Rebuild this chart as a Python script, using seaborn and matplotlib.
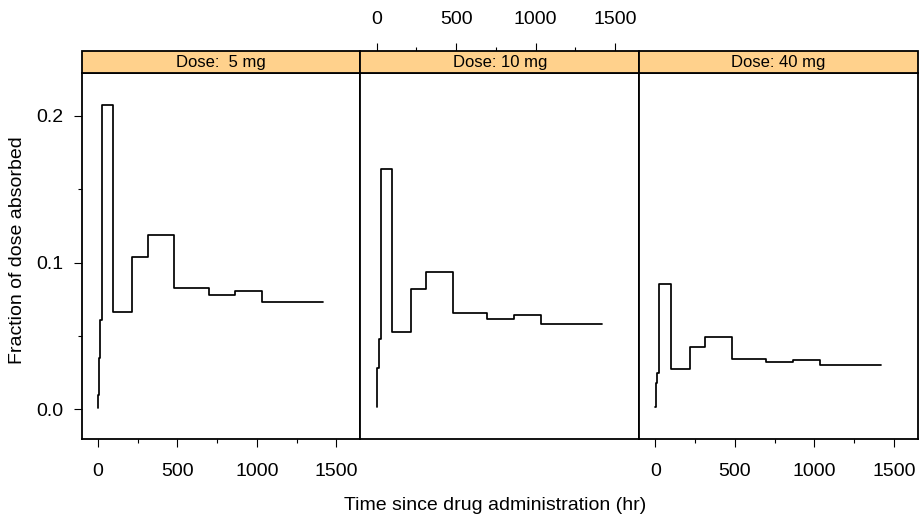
import matplotlib
matplotlib.use("Agg")
import matplotlib.pyplot as plt
from matplotlib.patches import Rectangle
from matplotlib.ticker import MultipleLocator, FormatStrFormatter
import pandas as pd
import seaborn as sns

# Sampling times (hr) and fraction of dose absorbed per interval, by dose
time_hr = [0, 1, 4, 12, 24, 96, 216, 312, 480, 696, 864, 1032, 1416]
frac_5mg = [0.0011, 0.0098, 0.0348, 0.0609, 0.2075, 0.0666, 0.1036, 0.1191,
            0.0829, 0.0779, 0.0807, 0.0734, 0.0734]
frac_10mg = [0.0018, 0.0075, 0.0280, 0.0477, 0.1639, 0.0525, 0.0818, 0.0938,
             0.0657, 0.0616, 0.0641, 0.0584, 0.0584]
frac_40mg = [0.0014, 0.0063, 0.0180, 0.0250, 0.0852, 0.0275, 0.0427, 0.0491,
             0.0343, 0.0323, 0.0334, 0.0302, 0.0302]
dose_labels = ["Dose:  5 mg", "Dose: 10 mg", "Dose: 40 mg"]

df = pd.concat(
    [pd.DataFrame({"time": time_hr, "frac": f, "dose": d})
     for f, d in zip([frac_5mg, frac_10mg, frac_40mg], dose_labels)],
    ignore_index=True,
)

sns.set_theme(style="ticks")
plt.rcParams["font.family"] = ["Liberation Sans", "DejaVu Sans"]
plt.rcParams["text.color"] = "black"
plt.rcParams["axes.labelcolor"] = "black"
plt.rcParams["xtick.color"] = "black"
plt.rcParams["ytick.color"] = "black"

g = sns.FacetGrid(df, col="dose", col_order=dose_labels, sharex=True,
                  sharey=True, height=4, aspect=0.7)
g.map_dataframe(sns.lineplot, x="time", y="frac", drawstyle="steps-post",
                estimator=None, sort=False, color="black", linewidth=1.25)
g.set_titles("")
g.set_axis_labels("", "")

fig = g.figure
fig.set_size_inches(9.2, 5.14)
fig.set_dpi(100)

W_PX, H_PX = 920, 514
left_px, right_px = 81.7, 918.0
top_px, bottom_px = 73.3, 439.3
panel_w = (right_px - left_px) / 3 / W_PX
panel_h = (bottom_px - top_px) / H_PX
panel_b = (H_PX - bottom_px) / H_PX
strip_h = 22.3 / (bottom_px - top_px)

xlim = (-102, 1651)
ylim = (-0.0205, 0.2291)

for i, ax in enumerate(g.axes.flat):
    ax.set_position([left_px / W_PX + i * panel_w, panel_b, panel_w, panel_h])
    ax.set_xlim(*xlim)
    ax.set_ylim(*ylim)
    ax.xaxis.set_major_locator(MultipleLocator(500))
    ax.xaxis.set_minor_locator(MultipleLocator(250))
    ax.yaxis.set_major_locator(MultipleLocator(0.1))
    ax.yaxis.set_minor_locator(MultipleLocator(0.05))
    ax.yaxis.set_major_formatter(FormatStrFormatter("%.1f"))
    for s in ax.spines.values():
        s.set_visible(True)
        s.set_linewidth(1.3)
        s.set_color("black")
    ax.tick_params(which="both", direction="out", color="black", width=0.8,
                   top=False, right=False, labelsize=14, labelcolor="black")
    ax.tick_params(which="major", length=6)
    ax.tick_params(which="minor", length=3)
    ax.tick_params(axis="x", which="both", pad=11)
    ax.tick_params(axis="y", which="both", pad=7.5)

    show_bottom = i != 1
    ax.tick_params(axis="x", which="both", bottom=show_bottom,
                   labelbottom=show_bottom)
    ax.tick_params(axis="y", which="both", left=(i == 0), labelleft=(i == 0))

    # Strip with the panel's dose
    ax.add_patch(Rectangle((0, 1), 1, strip_h, transform=ax.transAxes,
                           facecolor="#FFD18C", edgecolor="black",
                           linewidth=1.3, clip_on=False, zorder=5))
    ax.text(0.5, 1 + strip_h / 2, dose_labels[i], transform=ax.transAxes,
            ha="center", va="center", fontsize=12, color="black", zorder=6)

    if i == 1:
        sec = ax.secondary_xaxis(1 + strip_h)
        sec.xaxis.set_major_locator(MultipleLocator(500))
        sec.xaxis.set_minor_locator(MultipleLocator(250))
        for s in sec.spines.values():
            s.set_visible(False)
        sec.tick_params(which="both", direction="out", color="black",
                        width=0.8, labelsize=14, labelcolor="black", pad=10.5)
        sec.tick_params(which="major", length=6)
        sec.tick_params(which="minor", length=3)

fig.text(18 / W_PX, 1 - 250 / H_PX, "Fraction of dose absorbed",
         rotation=90, ha="center", va="center", fontsize=14, color="black")
fig.text(495 / W_PX, 4 / H_PX, "Time since drug administration (hr)",
         ha="center", va="baseline", fontsize=14, color="black")

fig.savefig("out.png", dpi=100)
